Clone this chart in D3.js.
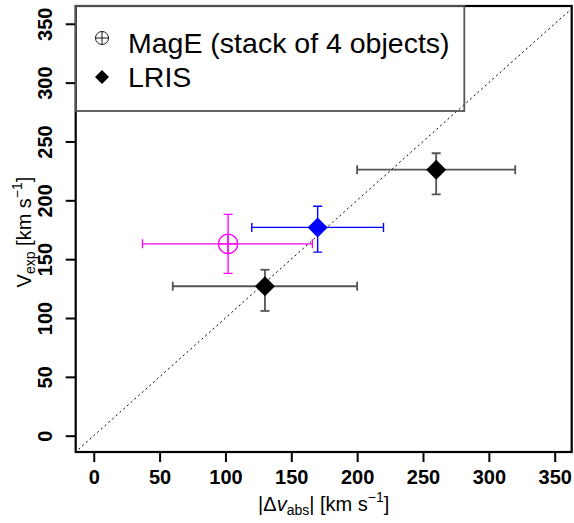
<!DOCTYPE html>
<html><head><meta charset="utf-8">
<script src="https://d3js.org/d3.v7.min.js"></script>
<style>body{margin:0;background:#fff}svg{display:block}text{font-family:"Liberation Sans",Arial,sans-serif}</style>
</head><body>
<script>
// ---- data ----
const xTicks = [0, 50, 100, 150, 200, 250, 300, 350];
const yTicks = [0, 50, 100, 150, 200, 250, 300, 350];
const legendLabels = ["MagE (stack of 4 objects)", "LRIS"];

const mageX = [102];
const mageY = [163];
const mageXLo = [37];
const mageXHi = [166];
const mageYLo = [138];
const mageYHi = [188];

const lrisX = [130, 170, 260];
const lrisY = [127, 177, 226];
const lrisXLo = [60, 120, 200];
const lrisXHi = [200, 220, 320];
const lrisYLo = [106, 156, 205];
const lrisYHi = [141, 195, 240];
const lrisGroup = ["main", "highlight", "main"];

// ---- layout ----
const W = 574, H = 523;
const svg = d3.select("body").append("svg").attr("width", W).attr("height", H);
const x = d3.scaleLinear().domain([-13.7, 362.9]).range([75.7, 571.7]);
const y = d3.scaleLinear().domain([-13.85, 365.1]).range([452, 6]);

const markColor = d3.scaleOrdinal().domain(["main", "highlight"]).range(["#000000", "#0000ff"]);
const barColor = d3.scaleOrdinal().domain(["main", "highlight"]).range(["#555555", "#0000ff"]);
const mageColor = "#ff00ff";

svg.append("defs").append("clipPath").attr("id", "clip")
  .append("rect").attr("x", 75.7).attr("y", 6).attr("width", 496).attr("height", 446);

const plot = svg.append("g").attr("clip-path", "url(#clip)");

// 1:1 line
plot.append("line")
  .attr("x1", x(-20)).attr("y1", y(-20)).attr("x2", x(380)).attr("y2", y(380))
  .attr("stroke", "#000").attr("stroke-width", 1).attr("stroke-dasharray", "2,3");

// error bars helper
function errBars(g, cx, cy, xlo, xhi, ylo, yhi, color, sw) {
  const cap = 4.5;
  g.append("line").attr("x1", x(xlo)).attr("x2", x(xhi)).attr("y1", y(cy)).attr("y2", y(cy))
    .attr("stroke", color).attr("stroke-width", sw);
  g.append("line").attr("x1", x(cx)).attr("x2", x(cx)).attr("y1", y(ylo)).attr("y2", y(yhi))
    .attr("stroke", color).attr("stroke-width", sw);
  [xlo, xhi].forEach(v => g.append("line").attr("x1", x(v)).attr("x2", x(v))
    .attr("y1", y(cy) - cap).attr("y2", y(cy) + cap).attr("stroke", color).attr("stroke-width", sw));
  [ylo, yhi].forEach(v => g.append("line").attr("y1", y(v)).attr("y2", y(v))
    .attr("x1", x(cx) - cap).attr("x2", x(cx) + cap).attr("stroke", color).attr("stroke-width", sw));
}

// MagE
mageX.forEach((v, i) => {
  errBars(plot, v, mageY[i], mageXLo[i], mageXHi[i], mageYLo[i], mageYHi[i], mageColor, 1.3);
});
function circlePlus(g, cx, cy, r, color, sw) {
  g.append("circle").attr("cx", cx).attr("cy", cy).attr("r", r)
    .attr("fill", "none").attr("stroke", color).attr("stroke-width", sw);
  g.append("line").attr("x1", cx - r).attr("x2", cx + r).attr("y1", cy).attr("y2", cy)
    .attr("stroke", color).attr("stroke-width", sw);
  g.append("line").attr("x1", cx).attr("x2", cx).attr("y1", cy - r).attr("y2", cy + r)
    .attr("stroke", color).attr("stroke-width", sw);
}
mageX.forEach((v, i) => circlePlus(plot, x(v), y(mageY[i]), 9.7, mageColor, 1.3));

// LRIS
lrisX.forEach((v, i) => {
  errBars(plot, v, lrisY[i], lrisXLo[i], lrisXHi[i], lrisYLo[i], lrisYHi[i], barColor(lrisGroup[i]), lrisGroup[i] === "main" ? 1.8 : 1.4);
});
const diamond = s => `M0,${-s}L${s},0L0,${s}L${-s},0Z`;
plot.selectAll("path.lris").data(lrisX).join("path")
  .attr("class", "lris")
  .attr("d", diamond(10))
  .attr("transform", (d, i) => `translate(${x(d)},${y(lrisY[i])})`)
  .attr("fill", (d, i) => markColor(lrisGroup[i]));

// frame
svg.append("rect").attr("x", 75.7).attr("y", 6).attr("width", 496).attr("height", 446)
  .attr("fill", "none").attr("stroke", "#000").attr("stroke-width", 2.2);

// axes
const xAxis = svg.append("g").attr("transform", "translate(0,452)")
  .call(d3.axisBottom(x).tickValues(xTicks).tickSize(10).tickPadding(8));
xAxis.select(".domain").remove();
xAxis.selectAll(".tick line").attr("stroke-width", 2);
xAxis.selectAll(".tick text").attr("font-size", 20).attr("font-weight", "bold")
  .attr("font-family", "Liberation Sans, Arial, sans-serif").attr("fill", "#000");

const yAxis = svg.append("g").attr("transform", "translate(75.7,0)")
  .call(d3.axisLeft(y).tickValues(yTicks).tickSize(10).tickPadding(8));
yAxis.select(".domain").remove();
yAxis.selectAll(".tick line").attr("stroke-width", 2);
yAxis.selectAll(".tick text").attr("font-size", 20).attr("font-weight", "bold")
  .attr("font-family", "Liberation Sans, Arial, sans-serif").attr("fill", "#000")
  .attr("x", null).attr("dy", null)
  .attr("text-anchor", "middle")
  .attr("transform", "translate(-31,0) rotate(-90)")
  .attr("dy", "0.36em");

// axis titles
const xt = svg.append("text").attr("x", 323.7).attr("y", 511).attr("text-anchor", "middle")
  .attr("font-size", 20).attr("fill", "#000");
xt.append("tspan").text("|Δ");
xt.append("tspan").attr("font-style", "italic").text("v");
xt.append("tspan").attr("font-size", 14).attr("dy", 4).text("abs");
xt.append("tspan").attr("dy", -4).text("| [km s");
xt.append("tspan").attr("font-size", 14).attr("dy", -9).text("−1");
xt.append("tspan").attr("dy", 9).text("]");

const yt = svg.append("text").attr("transform", "translate(31,232) rotate(-90)")
  .attr("text-anchor", "middle").attr("font-size", 20).attr("fill", "#000");
yt.append("tspan").text("V");
yt.append("tspan").attr("font-size", 14).attr("dy", 4).text("exp");
yt.append("tspan").attr("dy", -4).text(" [km s");
yt.append("tspan").attr("font-size", 14).attr("dy", -9).text("−1");
yt.append("tspan").attr("dy", 9).text("]");

// legend
svg.append("rect").attr("x", 75.7).attr("y", 6).attr("width", 464.3 - 75.7).attr("height", 111 - 6)
  .attr("fill", "none").attr("stroke", "#555").attr("stroke-width", 1.8);
const leg = svg.append("g");
circlePlus(leg, 102, 38, 6.5, "#000", 0.9);
leg.append("path").attr("d", diamond(7)).attr("transform", "translate(102,77)").attr("fill", "#000");
leg.selectAll("text.lg").data(legendLabels).join("text").attr("class", "lg")
  .attr("x", 128).attr("y", (d, i) => 52.5 + i * 34)
  .attr("font-size", 28.5).attr("fill", "#000").text(d => d);
</script>
</body></html>
